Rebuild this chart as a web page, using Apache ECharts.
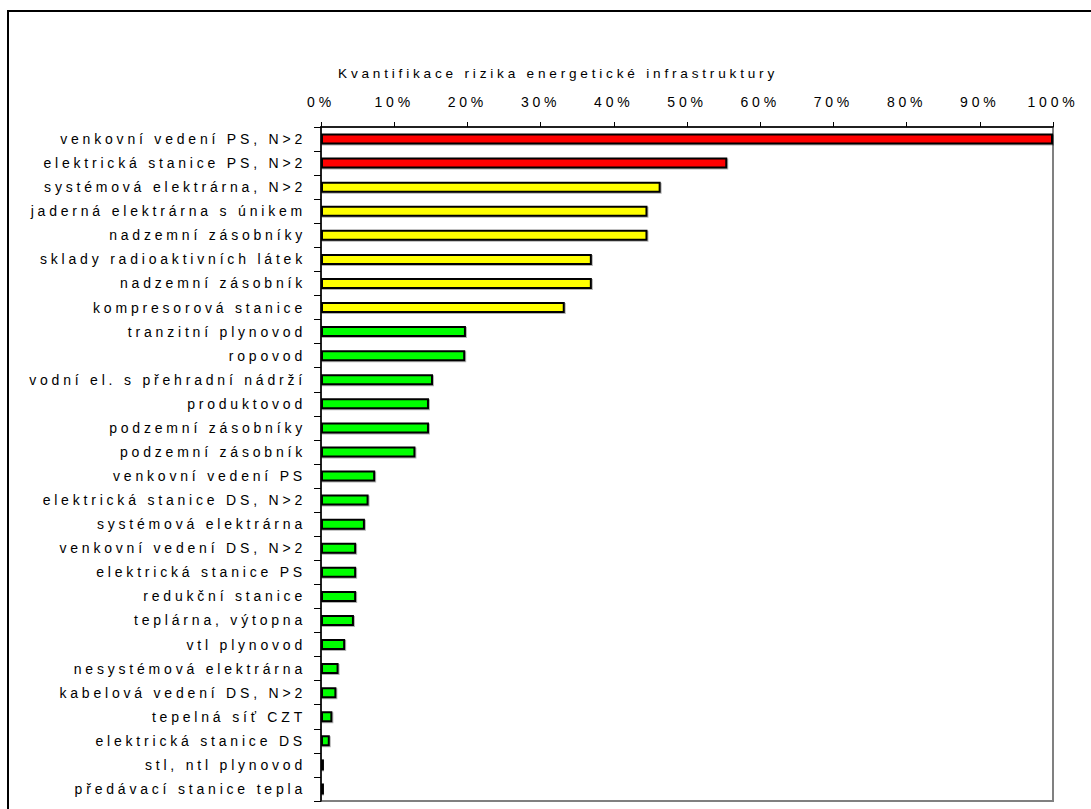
<!DOCTYPE html>
<html>
<head>
<meta charset="utf-8">
<script src="https://cdn.jsdelivr.net/npm/echarts@6/dist/echarts.min.js"></script>
<style>
  html, body { margin: 0; padding: 0; background: #fff; }
  #chart { width: 1091px; height: 809px; }
  #chart svg text { letter-spacing: 3.8px; }
</style>
</head>
<body>
<div id="chart"></div>
<script>
// ---- data ----
const categories = [
  'venkovní vedení PS, N>2',
  'elektrická stanice PS, N>2',
  'systémová elektrárna, N>2',
  'jaderná elektrárna s únikem',
  'nadzemní zásobníky',
  'sklady radioaktivních látek',
  'nadzemní zásobník',
  'kompresorová stanice',
  'tranzitní plynovod',
  'ropovod',
  'vodní el. s přehradní nádrží',
  'produktovod',
  'podzemní zásobníky',
  'podzemní zásobník',
  'venkovní vedení PS',
  'elektrická stanice DS, N>2',
  'systémová elektrárna',
  'venkovní vedení DS, N>2',
  'elektrická stanice PS',
  'redukční stanice',
  'teplárna, výtopna',
  'vtl plynovod',
  'nesystémová elektrárna',
  'kabelová vedení DS, N>2',
  'tepelná síť CZT',
  'elektrická stanice DS',
  'stl, ntl plynovod',
  'předávací stanice tepla'
];
const riskValues = [
  100, 55.5, 46.4, 44.6, 44.6, 37.0, 37.0, 33.3,
  19.8, 19.7, 15.3, 14.75, 14.75, 12.9, 7.4, 6.5, 6.0,
  4.8, 4.8, 4.8, 4.5, 3.3, 2.4, 2.1, 1.55, 1.2, 0.4, 0.4
];
const riskLevels = [
  'high', 'high',
  'medium', 'medium', 'medium', 'medium', 'medium', 'medium',
  'low', 'low', 'low', 'low', 'low', 'low', 'low', 'low', 'low',
  'low', 'low', 'low', 'low', 'low', 'low', 'low', 'low', 'low', 'low', 'low'
];
const axisTicks = [0, 10, 20, 30, 40, 50, 60, 70, 80, 90, 100];
const chartTitle = 'Kvantifikace rizika energetické infrastruktury';

// ---- styles ----
const levelColors = { high: '#ff0000', medium: '#ffff00', low: '#00ff00' };
const FONT = 'Liberation Sans, Arial, sans-serif';

const chart = echarts.init(document.getElementById('chart'), null, { renderer: 'svg' });
chart.setOption({
  animation: false,
  backgroundColor: '#ffffff',
  title: {
    text: chartTitle,
    left: 553,
    top: 61,
    textAlign: 'center',
    textStyle: { fontFamily: FONT, fontSize: 13.6, fontWeight: 'normal', color: '#000' }
  },
  graphic: [{
    type: 'rect',
    shape: { x: 8, y: 11, width: 1200, height: 900 },
    style: { fill: 'none', stroke: '#000', lineWidth: 2 },
    silent: true,
    z: -10
  }],
  grid: {
    left: 321, top: 127, right: 38, bottom: 8,
    show: true, borderColor: '#808080', borderWidth: 2, backgroundColor: 'transparent'
  },
  xAxis: {
    type: 'value',
    position: 'top',
    min: axisTicks[0],
    max: axisTicks[axisTicks.length - 1],
    interval: axisTicks[1] - axisTicks[0],
    axisLine: { show: true, lineStyle: { color: '#000', width: 1.5 } },
    axisTick: { show: true, length: 5, lineStyle: { color: '#000' } },
    splitLine: { show: false },
    axisLabel: {
      margin: 18,
      formatter: '{value}%',
      fontFamily: FONT, fontSize: 14, color: '#000'
    }
  },
  yAxis: {
    type: 'category',
    inverse: true,
    data: categories,
    axisLine: { show: true, lineStyle: { color: '#000', width: 1.5 } },
    axisTick: { show: true, length: 7, alignWithLabel: false, interval: 0, lineStyle: { color: '#000' } },
    axisLabel: {
      interval: 0,
      margin: 15,
      fontFamily: FONT, fontSize: 14, color: '#000'
    }
  },
  series: [{
    type: 'bar',
    barWidth: 11,
    data: riskValues.map((v, i) => ({
      value: v,
      itemStyle: { color: levelColors[riskLevels[i]] }
    })),
    itemStyle: {
      borderColor: '#000',
      borderWidth: 2,
      shadowColor: 'rgba(0,0,0,0.3)',
      shadowBlur: 0,
      shadowOffsetX: 1,
      shadowOffsetY: 1
    }
  }]
});
</script>
</body>
</html>
